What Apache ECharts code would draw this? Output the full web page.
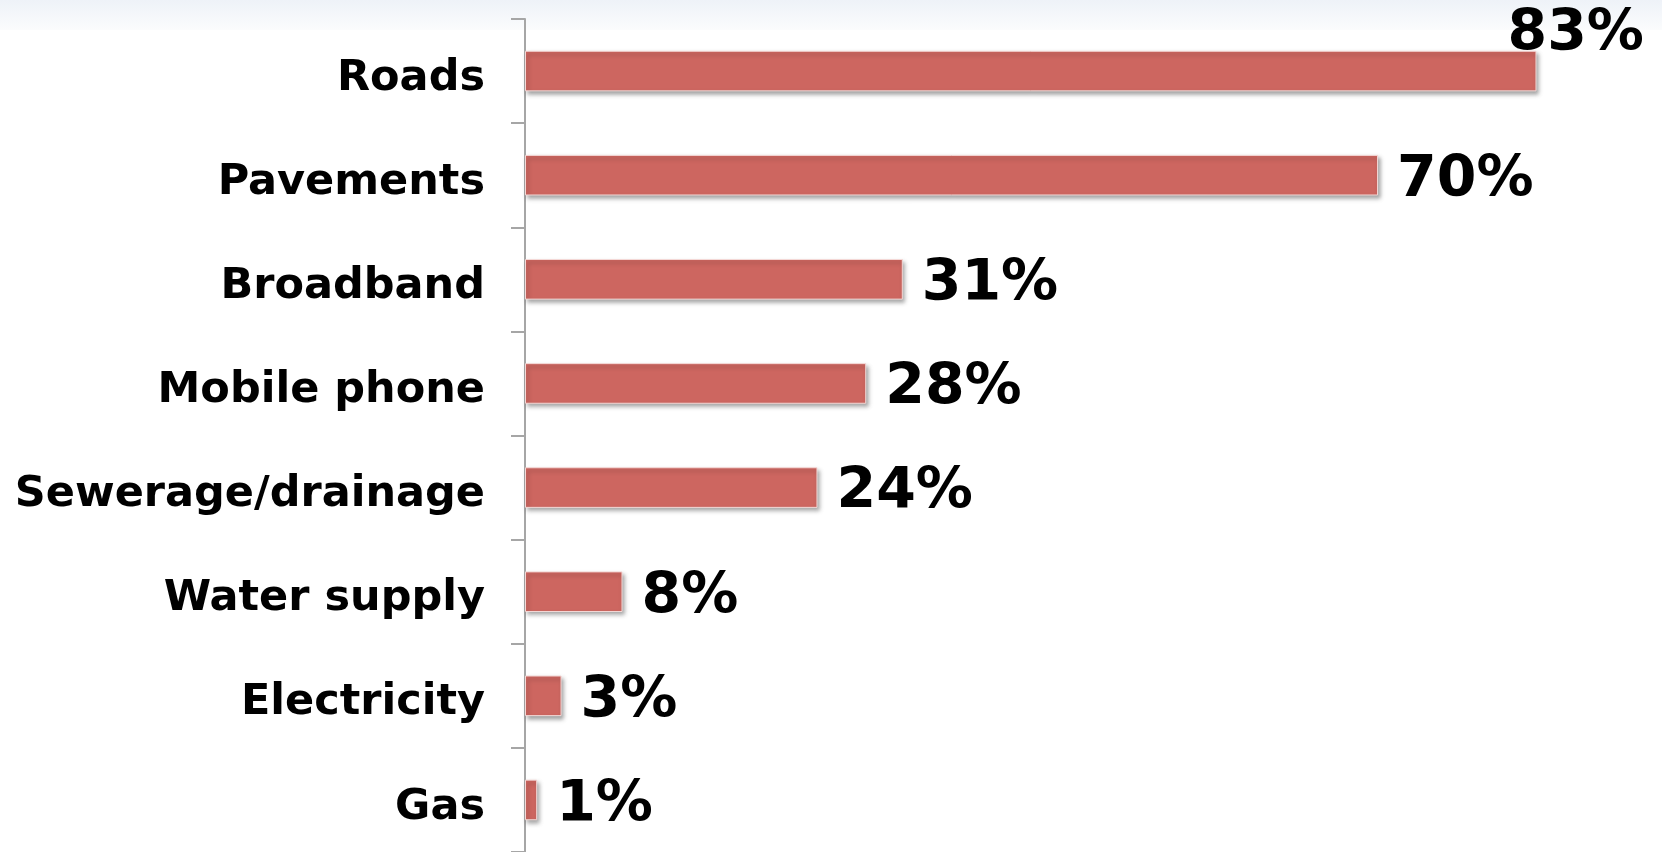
<!DOCTYPE html>
<html>
<head>
<meta charset="utf-8">
<script src="https://cdn.jsdelivr.net/npm/echarts@6/dist/echarts.min.js"></script>
<style>
  html, body { margin: 0; padding: 0; background: #ffffff; }
  #chart { width: 1662px; height: 852px; }
</style>
</head>
<body>
<div id="chart"></div>
<script>
// Share of respondents reporting problems, by type of infrastructure
const categories = ['Roads', 'Pavements', 'Broadband', 'Mobile phone', 'Sewerage/drainage', 'Water supply', 'Electricity', 'Gas'];
const values = [83, 70, 31, 28, 24, 8, 3, 1];

const barColor = '#CD6660';
const FONT = '"DejaVu Sans", Verdana, sans-serif';

// The top bar's label is pulled back inside the canvas
const seriesData = values.map((v, i) => {
  const item = { value: v };
  if (i === 0) {
    item.label = { offset: [-48, -36] };
  }
  return item;
});

const chart = echarts.init(document.getElementById('chart'));
chart.setOption({
  animation: false,
  backgroundColor: '#ffffff',
  graphic: [{
    type: 'rect',
    left: 0, top: 0, z: -1,
    shape: { width: 1662, height: 30 },
    style: {
      fill: new echarts.graphic.LinearGradient(0, 0, 0, 1, [
        { offset: 0, color: '#EEF2F8' },
        { offset: 1, color: '#FBFCFD' }
      ])
    },
    silent: true
  }],
  grid: { left: 525, top: 19, right: 0, height: 834, containLabel: false },
  xAxis: {
    type: 'value',
    min: 0,
    max: 93.3,
    show: false
  },
  yAxis: {
    type: 'category',
    data: categories,
    inverse: true,
    axisLine: { show: true, lineStyle: { color: '#A6A6A6', width: 2 } },
    axisTick: { show: true, length: 14, lineStyle: { color: '#A6A6A6', width: 2 } },
    axisLabel: {
      margin: 40,
      formatter: '{cat|{value}}',
      rich: {
        cat: {
          color: '#000000',
          fontFamily: FONT,
          fontWeight: 'bold',
          fontSize: 43,
          padding: [15, 0, 0, 0]
        }
      }
    },
    splitLine: { show: false }
  },
  series: [{
    type: 'bar',
    data: seriesData,
    barWidth: '39%',
    itemStyle: {
      color: barColor,
      borderColor: '#F4D8D6',
      borderWidth: 1,
      shadowColor: 'rgba(0,0,0,0.35)',
      shadowBlur: 4,
      shadowOffsetX: 2,
      shadowOffsetY: 3
    },
    label: {
      show: true,
      position: 'right',
      distance: 19,
      offset: [0, 6],
      formatter: '{c}%',
      color: '#000000',
      fontFamily: FONT,
      fontWeight: 'bold',
      fontSize: 57
    }
  }]
});
</script>
</body>
</html>
